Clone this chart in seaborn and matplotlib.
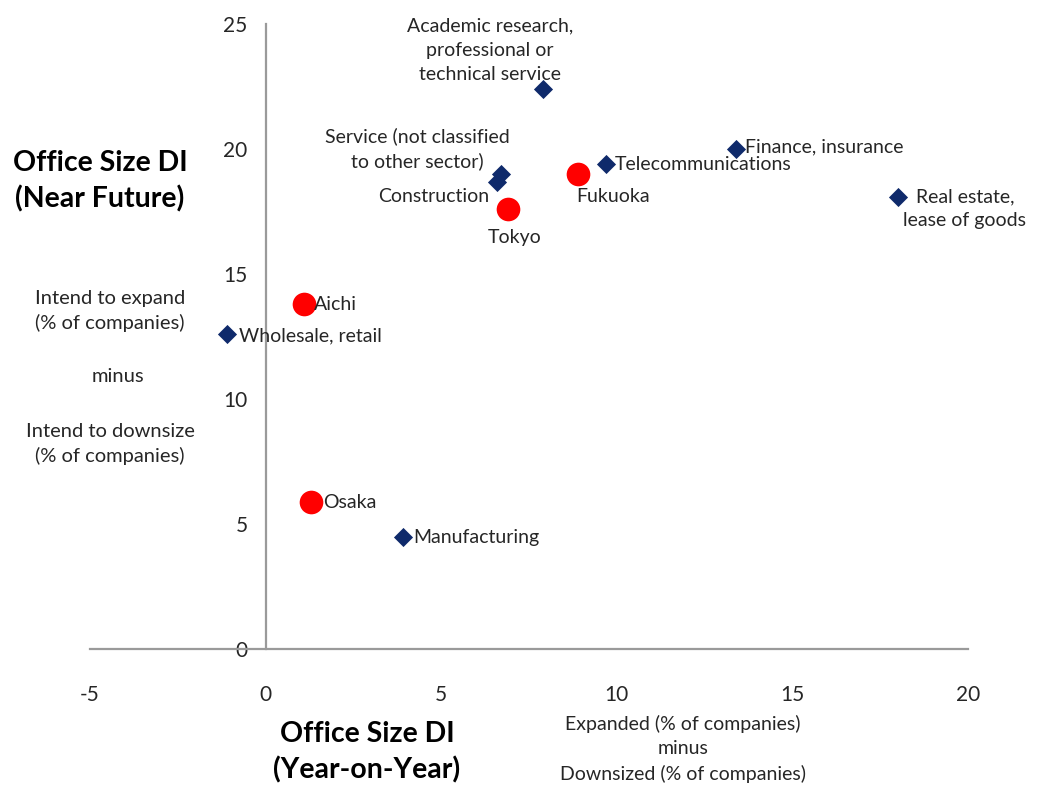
import matplotlib
matplotlib.use("Agg")
import matplotlib.pyplot as plt
import seaborn as sns
import pandas as pd

# Office size DI by industry and by city
industries = [
    "Academic research,\nprofessional or\ntechnical service",
    "Service (not classified\nto other sector)",
    "Construction",
    "Telecommunications",
    "Finance, insurance",
    "Real estate,\nlease of goods",
    "Wholesale, retail",
    "Manufacturing",
]
industry_yoy = [7.9, 6.7, 6.6, 9.7, 13.4, 18.0, -1.1, 3.9]
industry_future = [22.4, 19.0, 18.7, 19.4, 20.0, 18.1, 12.6, 4.5]

cities = ["Tokyo", "Fukuoka", "Aichi", "Osaka"]
city_yoy = [6.9, 8.9, 1.1, 1.3]
city_future = [17.6, 19.0, 13.8, 5.9]

df = pd.DataFrame({
    "name": industries + cities,
    "yoy": industry_yoy + city_yoy,
    "future": industry_future + city_future,
    "group": ["Industry"] * len(industries) + ["City"] * len(cities),
})

# label placement: (dx px, dy px, horizontal alignment)
label_offsets = {
    industries[0]: (-53, 39, "center"),
    industries[1]: (-84, 25, "center"),
    industries[2]: (-64, -15, "center"),
    industries[3]: (8, 0, "left"),
    industries[4]: (9, 2, "left"),
    industries[5]: (67, -12, "center"),
    industries[6]: (12, -2, "left"),
    industries[7]: (11, -1, "left"),
    "Tokyo": (7, -28, "center"),
    "Fukuoka": (35, -22, "center"),
    "Aichi": (10, 0, "left"),
    "Osaka": (12, -1, "left"),
}

sns.set_style("white")
plt.rcParams["font.family"] = ["Lato", "DejaVu Sans"]
plt.rcParams["axes.unicode_minus"] = False

NAVY = "#0F2A6B"
RED = "#FF0000"
TXT = "#262626"

fig = plt.figure(figsize=(10.37, 7.87), dpi=100)
ax = fig.add_axes([0.0868, 0.1753, 0.8467, 0.7942])

ind = df[df.group == "Industry"]
cit = df[df.group == "City"]
sns.scatterplot(data=ind, x="yoy", y="future", marker="D", color=NAVY,
                s=95, linewidth=0, legend=False, ax=ax)
sns.scatterplot(data=cit, x="yoy", y="future", marker="o", color=RED,
                s=290, linewidth=0, legend=False, ax=ax)

for _, r in df.iterrows():
    dx, dy, ha = label_offsets[r["name"]]
    ax.annotate(r["name"], (r["yoy"], r["future"]), xytext=(dx, dy),
                textcoords="offset pixels", ha=ha, va="center",
                fontsize=14, color=TXT, linespacing=1.5)

ax.set_xlim(-5, 20)
ax.set_ylim(0, 25)
ax.set_xticks(range(-5, 21, 5))
ax.set_yticks(range(0, 26, 5))
ax.spines["left"].set_position(("data", 0))
ax.spines["top"].set_visible(False)
ax.spines["right"].set_visible(False)
for s in ("left", "bottom"):
    ax.spines[s].set_color("#9a9a9a")
    ax.spines[s].set_linewidth(1.6)
ax.tick_params(axis="x", length=0, pad=26, labelsize=15, labelcolor=TXT)
ax.tick_params(axis="y", length=0, pad=13, labelsize=15, labelcolor=TXT)
ax.set_xlabel("")
ax.set_ylabel("")

# axis descriptions
fig.text(100 / 1037, 1 - 181 / 787, "Office Size DI\n(Near Future)", ha="center",
         va="center", fontsize=20.5, fontweight="bold", color="black", linespacing=1.4)
fig.text(110 / 1037, 1 - 311 / 787, "Intend to expand\n(% of companies)", ha="center",
         va="center", fontsize=14.5, color=TXT, linespacing=1.4)
fig.text(118 / 1037, 1 - 377 / 787, "minus", ha="center", va="center",
         fontsize=14.5, color=TXT)
fig.text(110 / 1037, 1 - 444 / 787, "Intend to downsize\n(% of companies)", ha="center",
         va="center", fontsize=14.5, color=TXT, linespacing=1.4)
fig.text(367 / 1037, 1 - 752 / 787, "Office Size DI\n(Year-on-Year)", ha="center",
         va="center", fontsize=20.5, fontweight="bold", color="black", linespacing=1.4)
fig.text(683 / 1037, 1 - 749 / 787,
         "Expanded (% of companies)\nminus\nDownsized (% of companies)",
         ha="center", va="center", fontsize=14, color=TXT, linespacing=1.5)

fig.savefig("out.png", dpi=100)
